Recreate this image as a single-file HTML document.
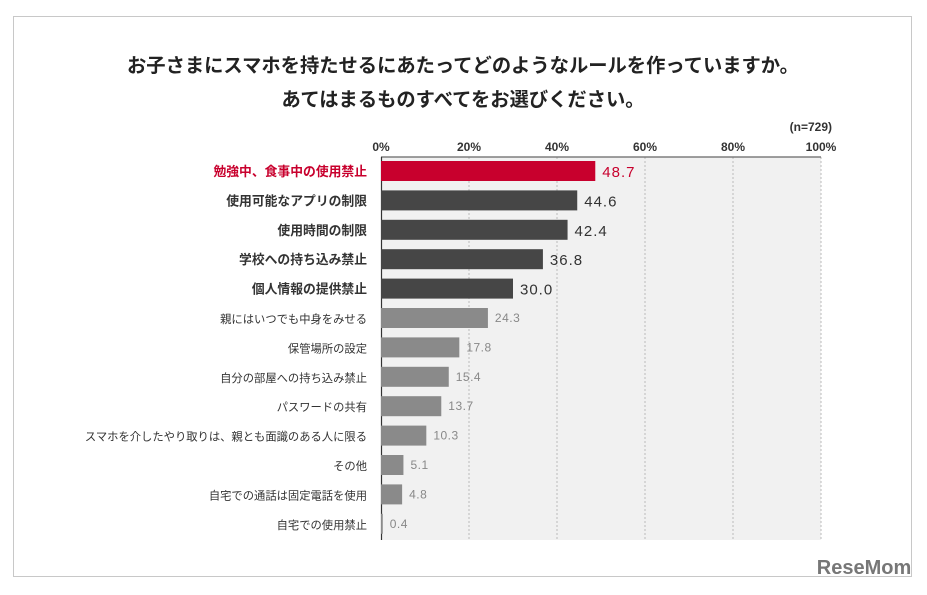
<!DOCTYPE html>
<html><head><meta charset="utf-8"><style>
body{margin:0;background:#fff;width:927px;height:590px;overflow:hidden;font-family:"Liberation Sans","Noto Sans CJK JP",sans-serif}
</style></head><body>
<svg width="927" height="590" xmlns="http://www.w3.org/2000/svg" font-family="'Liberation Sans','Noto Sans CJK JP',sans-serif">
<rect x="13.5" y="16.5" width="898" height="560" fill="#fff" stroke="#c8c8c8"/>
<text x="463" y="72" text-anchor="middle" font-size="19.3" font-weight="bold" fill="#222">お子さまにスマホを持たせるにあたってどのようなルールを作っていますか。</text>
<text x="463" y="106" text-anchor="middle" font-size="19.3" font-weight="bold" fill="#222">あてはまるものすべてをお選びください。</text>
<text x="832" y="131" text-anchor="end" font-size="12" font-weight="bold" fill="#333">(n=729)</text>
<rect x="381" y="157" width="440" height="383" fill="#f1f1f1"/>
<g id="grid"></g>
<line x1="381" y1="157" x2="821" y2="157" stroke="#666" stroke-width="1.2"/>
<line x1="381.5" y1="157" x2="381.5" y2="540" stroke="#333" stroke-width="1.2"/>
<g id="ticks"></g><g id="bars"></g>
<text x="864" y="574" text-anchor="middle" font-size="20" font-weight="bold" fill="#777">ReseMom</text>
</svg>
<script>
const categories=["勉強中、食事中の使用禁止","使用可能なアプリの制限","使用時間の制限","学校への持ち込み禁止","個人情報の提供禁止","親にはいつでも中身をみせる","保管場所の設定","自分の部屋への持ち込み禁止","パスワードの共有","スマホを介したやり取りは、親とも面識のある人に限る","その他","自宅での通話は固定電話を使用","自宅での使用禁止"];
const values=[48.7,44.6,42.4,36.8,30.0,24.3,17.8,15.4,13.7,10.3,5.1,4.8,0.4];
const tickValues=[0,20,40,60,80,100];
const tickLabels=["0%","20%","40%","60%","80%","100%"];
const NS="http://www.w3.org/2000/svg";
const x=v=>381+v*4.4;
const y=i=>171+i*29.4;
function mk(t,a){const e=document.createElementNS(NS,t);for(const k in a)e.setAttribute(k,a[k]);return e;}
const grid=document.getElementById('grid'),ticks=document.getElementById('ticks'),bars=document.getElementById('bars');
tickValues.forEach((v,i)=>{
 if(v>0){const l=mk('line',{x1:x(v),y1:157,x2:x(v),y2:540,stroke:'#bbb','stroke-dasharray':'2,2'});
 
 
 grid.appendChild(l);}
 const t=mk('text',{x:x(v),y:151,'text-anchor':'middle','font-size':12,'font-weight':'bold',fill:'#333'});
 t.textContent=tickLabels[i];
 
 
 ticks.appendChild(t);
});
values.forEach((v,i)=>{
 const col=i===0?'#c8002d':(i<5?'#464646':'#8a8a8a');
 const r=mk('rect',{x:381,y:y(i)-10,width:v*4.4,height:20,fill:col});
 
 
 bars.appendChild(r);
 const lab=mk('text',{x:367,y:y(i)+5,'text-anchor':'end','font-size':i<5?12.8:11.3,'font-weight':i<5?'bold':'normal',fill:i===0?'#c8002d':'#333'});
 lab.textContent=categories[i];
 
 
 bars.appendChild(lab);
 const vt=mk('text',{x:x(v)+7,y:y(i)+(i<5?6:4),'font-size':i<5?15:12,fill:i===0?'#c8002d':(i<5?'#333':'#888'),'letter-spacing':i<5?1:0.5});
 vt.textContent=v.toFixed(1);
 
 
 bars.appendChild(vt);
});
</script>
</body></html>
